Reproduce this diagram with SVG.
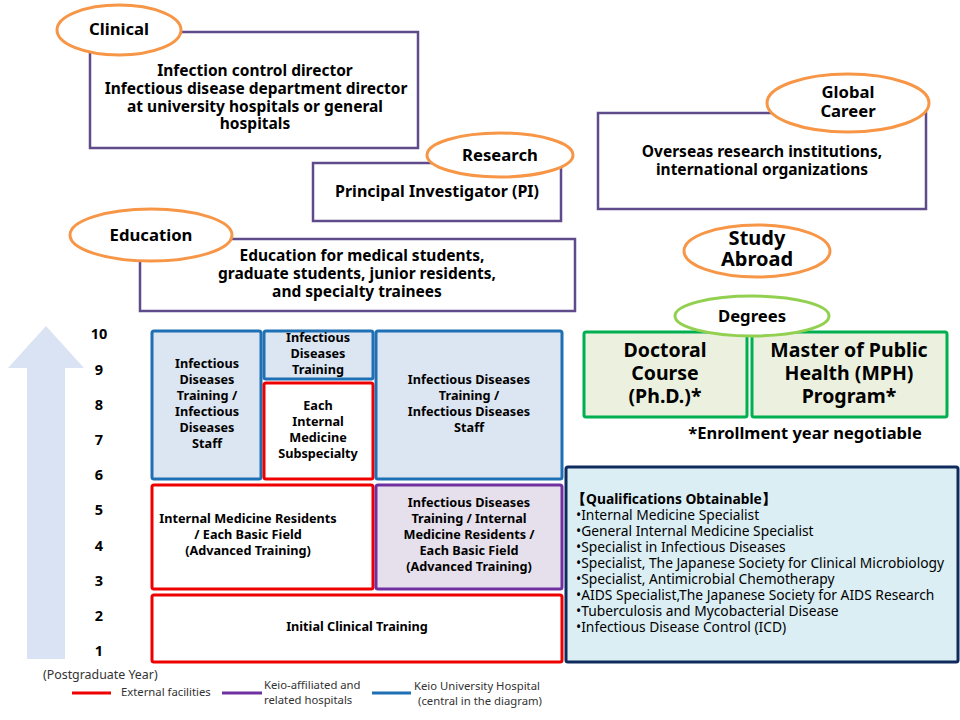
<svg xmlns="http://www.w3.org/2000/svg" width="960" height="720" viewBox="0 0 960 720">
<style>
text{font-family:"Noto Sans","DejaVu Sans",sans-serif;fill:#000}
.b{font-weight:bold;font-size:12.7px;text-anchor:middle}
.c{font-weight:bold;font-size:15.5px;text-anchor:middle}
.q{font-size:13.8px}
.lg{font-size:11.3px;fill:#333}
.yr{font-weight:bold;font-size:14.5px;text-anchor:middle}
.pbox{fill:#fff;stroke:#5f4b8b;stroke-width:2.5}
.oval{fill:#fff;stroke:#f79646;stroke-width:3}
.gov{fill:#fff;stroke:#92d050;stroke-width:3}
.blue{fill:#dce6f2;stroke:#1f6fb4;stroke-width:3}
.red{fill:#fff;stroke:#ee0000;stroke-width:3}
.purp{fill:#e6e0ec;stroke:#7030a0;stroke-width:3}
.grn{fill:#ebf1de;stroke:#00b050;stroke-width:3}
.big{font-weight:bold;font-size:19.5px;text-anchor:middle}
.ot{font-weight:bold;font-size:16.7px;text-anchor:middle}
.sa{font-weight:bold;font-size:20px;text-anchor:middle}
</style>
<rect width="960" height="720" fill="#fff"/>
<g id="connectors"></g>

<g id="clinical">
<rect class="pbox" x="90" y="32" width="328" height="116"/>
<ellipse class="oval" cx="119" cy="30" rx="62" ry="25"/>
<text class="ot" x="119" y="35">Clinical</text>
<text class="c" x="255" y="76">Infection control director</text>
<text class="c" x="256" y="94">Infectious disease department director</text>
<text class="c" x="255" y="112">at university hospitals or general</text>
<text class="c" x="255" y="129">hospitals</text>
</g>

<g id="research">
<rect class="pbox" x="313" y="163" width="248" height="58"/>
<ellipse class="oval" cx="500" cy="155" rx="73" ry="22"/>
<text class="ot" x="500" y="161">Research</text>
<text class="c" x="437" y="197" style="font-size:16px">Principal Investigator (PI)</text>
</g>

<g id="global">
<rect class="pbox" x="598" y="113" width="328" height="96"/>
<ellipse class="oval" cx="848" cy="103" rx="81" ry="29"/>
<text class="ot" x="848" y="98">Global</text>
<text class="ot" x="848" y="117">Career</text>
<text class="c" x="762" y="157">Overseas research institutions,</text>
<text class="c" x="762" y="175">international organizations</text>
</g>

<g id="education">
<rect class="pbox" x="140" y="239" width="435" height="72"/>
<ellipse class="oval" cx="151" cy="235" rx="81" ry="26"/>
<text class="ot" x="151" y="241">Education</text>
<text class="c" x="362" y="261">Education for medical students,</text>
<text class="c" x="357" y="279">graduate students, junior residents,</text>
<text class="c" x="357" y="297">and specialty trainees</text>
</g>

<g id="study-abroad">
<ellipse class="oval" cx="757" cy="251" rx="73" ry="26"/>
<text class="sa" x="757" y="245">Study</text>
<text class="sa" x="757" y="266">Abroad</text>
</g>

<g id="doctoral">
<rect class="grn" x="584" y="332" width="163" height="85" rx="2"/>
<text class="big" x="665" y="357">Doctoral</text>
<text class="big" x="665" y="380">Course</text>
<text class="big" x="665" y="403">(Ph.D.)*</text>
</g>
<g id="mph">
<rect class="grn" x="752" y="332" width="195" height="85" rx="2"/>
<text class="big" x="849" y="357">Master of Public</text>
<text class="big" x="849" y="380">Health (MPH)</text>
<text class="big" x="849" y="403">Program*</text>
</g>
<g id="degrees">
<ellipse class="gov" cx="752" cy="316" rx="77" ry="20"/>
<text class="ot" x="752" y="322">Degrees</text>
</g>
<text class="ot" x="805" y="439" style="font-size:16.5px">*Enrollment year negotiable</text>

<g id="year-axis">
<polygon points="46,326 84,368 65,368 65,659 27,659 27,368 8,368" fill="#dae3f3"/>
<text class="yr" x="99" y="339">10</text>
<text class="yr" x="99" y="375">9</text>
<text class="yr" x="99" y="410">8</text>
<text class="yr" x="99" y="445">7</text>
<text class="yr" x="99" y="480">6</text>
<text class="yr" x="99" y="515">5</text>
<text class="yr" x="99" y="551">4</text>
<text class="yr" x="99" y="586">3</text>
<text class="yr" x="99" y="621">2</text>
<text class="yr" x="99" y="656">1</text>
<text class="lg" x="43" y="679" style="font-size:12.4px">(Postgraduate Year)</text>
</g>

<g id="id-staff-left">
<rect class="blue" x="152" y="331" width="109" height="148" rx="2"/>
<text class="b" x="207" y="368">Infectious</text>
<text class="b" x="207" y="384">Diseases</text>
<text class="b" x="207" y="400">Training /</text>
<text class="b" x="207" y="416">Infectious</text>
<text class="b" x="207" y="432">Diseases</text>
<text class="b" x="207" y="448">Staff</text>
</g>

<g id="id-training-mid">
<rect class="blue" x="264" y="331" width="109" height="48" rx="2"/>
<text class="b" x="318" y="342">Infectious</text>
<text class="b" x="318" y="358">Diseases</text>
<text class="b" x="318" y="374">Training</text>
</g>

<g id="im-subspecialty">
<rect class="red" x="264" y="383" width="109" height="96" rx="2"/>
<text class="b" x="318" y="410">Each</text>
<text class="b" x="318" y="426">Internal</text>
<text class="b" x="318" y="442">Medicine</text>
<text class="b" x="318" y="458">Subspecialty</text>
</g>

<g id="id-staff-right">
<rect class="blue" x="376" y="331" width="186" height="148" rx="2"/>
<text class="b" x="469" y="384">Infectious Diseases</text>
<text class="b" x="469" y="400">Training /</text>
<text class="b" x="469" y="416">Infectious Diseases</text>
<text class="b" x="469" y="432">Staff</text>
</g>

<g id="im-residents">
<rect class="red" x="152" y="485" width="221" height="104" rx="2"/>
<text class="b" x="248" y="523">Internal Medicine Residents</text>
<text class="b" x="248" y="539">/ Each Basic Field</text>
<text class="b" x="248" y="555">(Advanced Training)</text>
</g>

<g id="id-im-residents">
<rect class="purp" x="376" y="485" width="186" height="104" rx="2"/>
<text class="b" x="469" y="507">Infectious Diseases</text>
<text class="b" x="469" y="523">Training / Internal</text>
<text class="b" x="469" y="539">Medicine Residents /</text>
<text class="b" x="469" y="555">Each Basic Field</text>
<text class="b" x="469" y="571">(Advanced Training)</text>
</g>

<g id="initial-training">
<rect class="red" x="152" y="595" width="410" height="67" rx="2"/>
<text class="b" x="357" y="631">Initial Clinical Training</text>
</g>

<g id="qualifications">
<rect x="566" y="467" width="392" height="195" rx="2" fill="#dbeef4" stroke="#0f2a5c" stroke-width="3"/>
<text class="q" x="572" y="504" font-weight="bold">【Qualifications Obtainable】</text>
<text class="q" x="576" y="520">•Internal Medicine Specialist</text>
<text class="q" x="576" y="536">•General Internal Medicine Specialist</text>
<text class="q" x="576" y="552">•Specialist in Infectious Diseases</text>
<text class="q" x="576" y="568">•Specialist, The Japanese Society for Clinical Microbiology</text>
<text class="q" x="576" y="584">•Specialist, Antimicrobial Chemotherapy</text>
<text class="q" x="576" y="600">•AIDS Specialist,The Japanese Society for AIDS Research</text>
<text class="q" x="576" y="616">•Tuberculosis and Mycobacterial Disease</text>
<text class="q" x="576" y="632">•Infectious Disease  Control (ICD)</text>
</g>

<g id="legend">
<line x1="72" y1="693" x2="111" y2="693" stroke="#ee0000" stroke-width="3"/>
<text class="lg" x="121" y="696">External facilities</text>
<line x1="222" y1="693" x2="262" y2="693" stroke="#7030a0" stroke-width="3"/>
<text class="lg" x="264" y="689">Keio-affiliated and</text>
<text class="lg" x="264" y="704">related hospitals</text>
<line x1="372" y1="693" x2="411" y2="693" stroke="#1f6fb4" stroke-width="3"/>
<text class="lg" x="414" y="690">Keio University Hospital</text>
<text class="lg" x="418" y="705">(central in the diagram)</text>
</g>
</svg>
